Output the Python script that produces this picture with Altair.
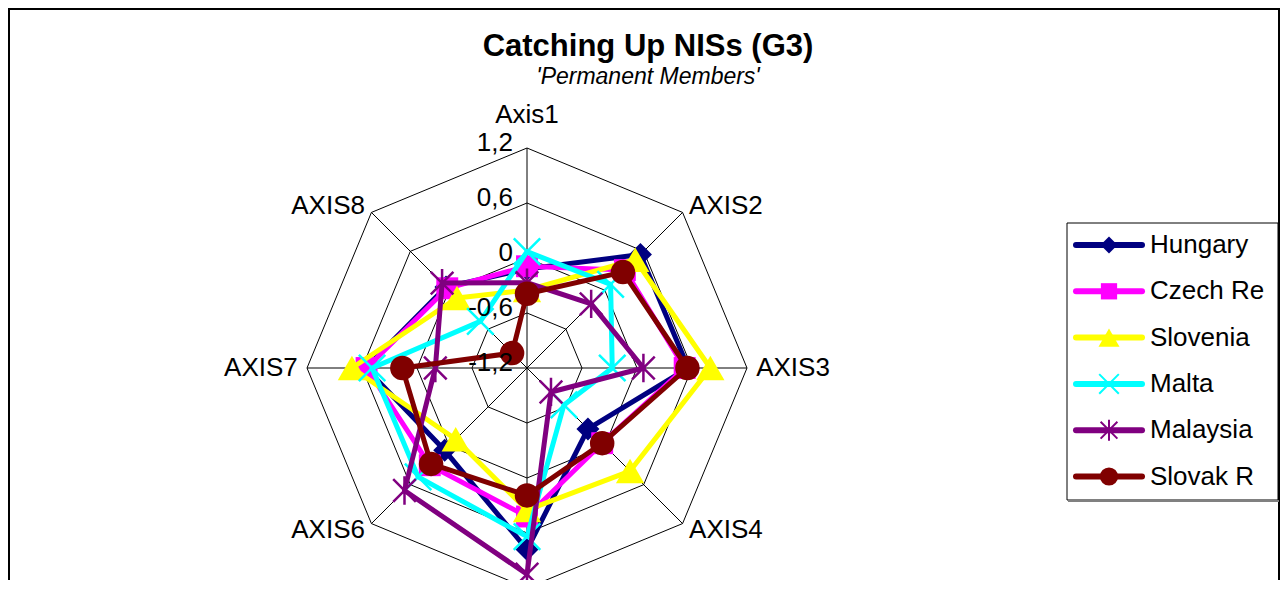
import altair as alt
import pandas as pd

# ---------------- data ----------------
AXES = ["Axis1", "AXIS2", "AXIS3", "AXIS4", "AXIS5", "AXIS6", "AXIS7", "AXIS8"]
SERIES = ["Hungary", "Czech Re", "Slovenia", "Malta", "Malaysia", "Slovak R"]
HUNGARY = [-0.12, 0.55, 0.56, -0.26, 0.78, 0.07, 0.56, 0.05]
CZECH = [-0.09, 0.31, 0.52, -0.04, 0.42, 0.30, 0.55, 0.03]
SLOVENIA = [-0.35, 0.47, 0.80, 0.39, 0.35, -0.10, 0.71, -0.12]
MALTA = [0.07, 0.09, -0.27, -0.63, 0.64, 0.48, 0.49, -0.48]
MALAYSIA = [-0.27, -0.21, 0.07, -0.83, 1.05, 0.69, -0.20, 0.11]
SLOVAK = [-0.39, 0.28, 0.55, -0.04, 0.19, 0.28, 0.16, -0.97]
VALUES = [HUNGARY, CZECH, SLOVENIA, MALTA, MALAYSIA, SLOVAK]
LEVELS = [-1.2, -0.6, 0.0, 0.6, 1.2]
LEVEL_LABELS = ["-1,2", "-0,6", "0", "0,6", "1,2"]

# ---------------- styles ----------------
FONT = "Liberation Sans"
COLORS = ["#000080", "#FF00FF", "#FFFF00", "#00FFFF", "#800080", "#800000"]
X_PATH = "M-1,-1L1,1M-1,1L1,-1"
STAR_PATH = "M-0.8,-0.8L0.8,0.8M-0.8,0.8L0.8,-0.8M0,-1L0,1"
MARKERS = [
    dict(shape="diamond", filled=True, size=530),
    dict(shape="square", filled=True, size=480),
    dict(shape="triangle-up", filled=True, size=800),
    dict(shape=X_PATH, filled=False, size=700, strokeWidth=2.5),
    dict(shape=STAR_PATH, filled=False, size=800, strokeWidth=2.5),
    dict(shape="circle", filled=True, size=600),
]
LEG_SCALE = 0.55

W, H = 1272, 572
CX, CY = 519, 360          # centre of the radar in plot pixels
RADIUS_PX = 220
N = len(AXES)
RMIN = LEVELS[0]
SPAN = LEVELS[-1] - LEVELS[0]
UNIT = RADIUS_PX / SPAN
XDOM = [-CX / UNIT, (W - CX) / UNIT]
YDOM = [-(H - CY) / UNIT, CY / UNIT]

# ---------------- tables ----------------
long_df = pd.DataFrame(
    [{"series": s, "k": k, "axis": AXES[k], "value": v}
     for s, vals in zip(SERIES, VALUES) for k, v in enumerate(vals)]
)
grid_df = pd.DataFrame([{"level": lv, "k": k} for lv in LEVELS for k in range(N)])
spoke_df = pd.DataFrame({"k": list(range(N)), "axis": AXES})
tick_df = pd.DataFrame({"level": LEVELS, "label": LEVEL_LABELS})
legend_df = pd.DataFrame({"series": SERIES})
one_df = pd.DataFrame({"a": [0]})

ANG = f"datum.k * 2 * PI / {N}"
XS = alt.Scale(domain=XDOM, nice=False, zero=False)
YS = alt.Scale(domain=YDOM, nice=False, zero=False)


def X(f):
    return alt.X(f"{f}:Q", scale=XS, axis=None)


def Y(f):
    return alt.Y(f"{f}:Q", scale=YS, axis=None)


# ---------------- radar grid ----------------
rings = alt.Chart(grid_df).transform_calculate(
    r=f"datum.level - ({RMIN})"
).transform_calculate(
    x=f"datum.r * sin({ANG})", y=f"datum.r * cos({ANG})"
).mark_line(interpolate="linear-closed", color="black", strokeWidth=1).encode(
    x=X("x"), y=Y("y"), detail="level:N", order="k:Q"
)

spokes = alt.Chart(spoke_df).transform_calculate(
    x0="0", y0="0",
    x1=f"{SPAN} * sin({ANG})", y1=f"{SPAN} * cos({ANG})"
).mark_rule(color="black", strokeWidth=1).encode(
    x=X("x0"), y=Y("y0"), x2="x1:Q", y2="y1:Q"
)

ticks = alt.Chart(tick_df).transform_calculate(
    x="0", y=f"datum.level - ({RMIN})"
).mark_text(align="right", baseline="middle", dx=-14, dy=-5,
            font=FONT, fontSize=26, color="black").encode(
    x=X("x"), y=Y("y"), text="label:N"
)


def axis_labels(cond, align, extra):
    # labels that would fall below the visible area (cropped in the reference) are dropped
    return alt.Chart(spoke_df).transform_calculate(
        s=f"sin({ANG})", c=f"cos({ANG})"
    ).transform_filter(cond).transform_calculate(
        x=f"({SPAN} + {extra}) * datum.s", y=f"({SPAN} + {extra}) * datum.c"
    ).transform_filter(f"datum.y > {YDOM[0] + 0.2}").mark_text(
        align=align, baseline="middle", font=FONT, fontSize=26, color="black"
    ).encode(x=X("x"), y=Y("y"), text="axis:N")


lab_right = axis_labels("datum.s > 0.1", "left", 0.1)
lab_left = axis_labels("datum.s < -0.1", "right", 0.1)
lab_mid = axis_labels("abs(datum.s) <= 0.1", "center", 0.36)

# ---------------- series ----------------
series_layers = []
for s, col, mk in zip(SERIES, COLORS, MARKERS):
    base = alt.Chart(long_df).transform_filter(
        alt.datum.series == s
    ).transform_calculate(
        r=f"datum.value - ({RMIN})"
    ).transform_calculate(
        x=f"datum.r * sin({ANG})", y=f"datum.r * cos({ANG})"
    )
    line = base.mark_line(interpolate="linear-closed", color=col, strokeWidth=5,
                          strokeJoin="round").encode(
        x=X("x"), y=Y("y"), order="k:Q"
    )
    pt_kwargs = dict(shape=mk["shape"], filled=mk["filled"], size=mk["size"],
                     color=col, opacity=1)
    if "strokeWidth" in mk:
        pt_kwargs["strokeWidth"] = mk["strokeWidth"]
    pts = base.mark_point(**pt_kwargs).encode(x=X("x"), y=Y("y"))
    series_layers += [line, pts]

radar = alt.layer(spokes, rings, *series_layers, ticks, lab_right, lab_left, lab_mid)

# ---------------- legend ----------------
LY = alt.Y("series:N", scale=alt.Scale(type="point", domain=SERIES,
                                       range=[237, 468.5], padding=0), axis=None)
box = alt.Chart(one_df).mark_rect(fill="white", stroke="black", strokeWidth=1).encode(
    x=alt.value(1059), x2=alt.value(1270), y=alt.value(215), y2=alt.value(492)
)
shadow = alt.Chart(one_df).mark_rule(color="#808080", strokeWidth=2).encode(
    x=alt.value(1060), x2=alt.value(1271), y=alt.value(493)
)
leg_lines = alt.Chart(legend_df).mark_rule(strokeWidth=6, strokeCap="round").encode(
    y=LY, x=alt.value(1068), x2=alt.value(1134),
    color=alt.Color("series:N", scale=alt.Scale(domain=SERIES, range=COLORS), legend=None)
)
leg_pts = []
for s, col, mk in zip(SERIES, COLORS, MARKERS):
    kw = dict(shape=mk["shape"], filled=mk["filled"], size=mk["size"] * LEG_SCALE,
              color=col, opacity=1)
    if "strokeWidth" in mk:
        kw["strokeWidth"] = mk["strokeWidth"] * 0.8
    leg_pts.append(
        alt.Chart(legend_df).transform_filter(alt.datum.series == s)
        .mark_point(**kw).encode(y=LY, x=alt.value(1101))
    )
leg_text = alt.Chart(legend_df).mark_text(align="left", baseline="middle", font=FONT,
                                          fontSize=26, color="black").encode(
    y=LY, x=alt.value(1142), text="series:N"
)
legend = alt.layer(box, shadow, leg_lines, *leg_pts, leg_text)

# ---------------- frame ----------------
frame_top = alt.Chart(one_df).mark_rule(color="black", strokeWidth=2).encode(
    x=alt.value(0), x2=alt.value(W), y=alt.value(1)
)
frame_left = alt.Chart(one_df).mark_rule(color="black", strokeWidth=2).encode(
    x=alt.value(1), y=alt.value(0), y2=alt.value(H)
)
frame_right = alt.Chart(one_df).mark_rule(color="black", strokeWidth=2).encode(
    x=alt.value(W - 1), y=alt.value(0), y2=alt.value(H)
)
frame = alt.layer(frame_top, frame_left, frame_right)

chart = alt.layer(frame, radar, legend).resolve_scale(
    y="independent"
).properties(
    width=W, height=H, padding=0,
    autosize=alt.AutoSizeParams(type="none"),
    title=alt.TitleParams(
        text="Catching Up NISs (G3)", subtitle="'Permanent Members'",
        font=FONT, fontSize=31, fontWeight="bold", color="black",
        subtitleFont=FONT, subtitleFontSize=23, subtitleFontStyle="italic",
        subtitleColor="black", subtitlePadding=3,
        anchor="middle", frame="group", offset=-83, dx=4,
    ),
).configure_view(strokeWidth=0)

chart.save("out.html", embed_options={"renderer": "svg", "actions": False})
